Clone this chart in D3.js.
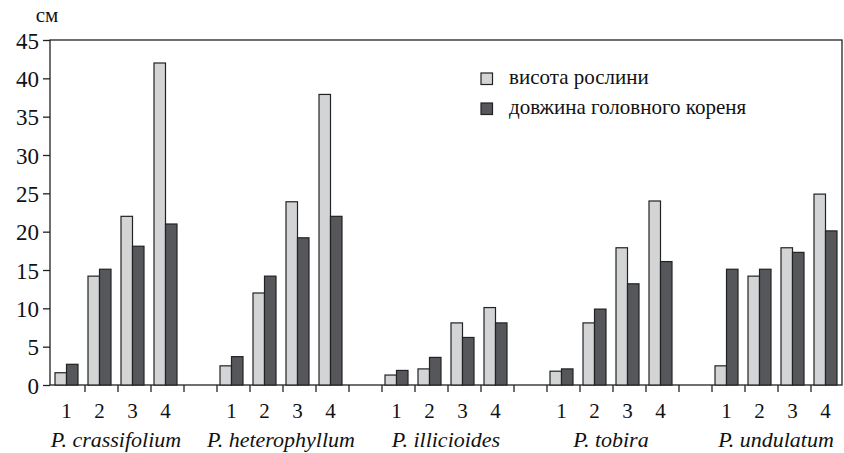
<!DOCTYPE HTML>
<html>
<head>
  <meta charset="utf-8">
  <title>d3</title>
  <script src="https://d3js.org/d3.v7.min.js"></script>
  <style>
    body { margin: 0; background: #fff; }
    svg text { font-family: "Liberation Serif", Tinos, "Times New Roman", serif; }
  </style>
</head>
<body>
  <script>
    const species = ['P. crassifolium', 'P. heterophyllum', 'P. illicioides', 'P. tobira', 'P. undulatum'];
    const stages = ['1', '2', '3', '4'];
    // висота рослини
    const heightVals = [
      [1.6, 14.2, 22, 42],
      [2.5, 12, 23.9, 37.9],
      [1.3, 2.1, 8.1, 10.1],
      [1.8, 8.1, 17.9, 24],
      [2.5, 14.2, 17.9, 24.9],
    ];
    // довжина головного кореня
    const rootVals = [
      [2.7, 15.1, 18.1, 21],
      [3.7, 14.2, 19.2, 22],
      [1.9, 3.6, 6.2, 8.1],
      [2.1, 9.9, 13.2, 16.1],
      [15.1, 15.1, 17.3, 20.1],
    ];
    const yTicks = [0, 5, 10, 15, 20, 25, 30, 35, 40, 45];
    const legendLabels = ['висота рослини', 'довжина головного кореня'];
    const colors = ['#d3d4d5', '#55575a'];

    const FONT = 'Liberation Serif';
    const W = 844, H = 453;
    const mLeft = 50, mRight = 842, mTop = 40, mBottom = 385;

    // slots: 4 stages + 1 gap per species, no gap after the last
    const slots = [];
    species.forEach((sp, i) => {
      stages.forEach((st, j) => slots.push(i + '-' + j));
      if (i < species.length - 1) slots.push('gap' + i);
    });

    const x = d3.scaleBand().domain(slots).range([mLeft, mRight]);
    const y = d3.scaleLinear().domain([0, 45]).range([mBottom, mTop]);
    const barW = 11.5;

    const svg = d3.select('body').append('svg')
      .attr('width', W)
      .attr('height', H)
      .attr('font-family', FONT);

    // frame
    svg.append('rect')
      .attr('x', mLeft).attr('y', mTop)
      .attr('width', mRight - mLeft).attr('height', mBottom - mTop)
      .attr('fill', 'none').attr('stroke', '#222').attr('stroke-width', 1.3);

    // y axis
    const yAxis = svg.append('g')
      .attr('transform', `translate(${mLeft},0)`)
      .call(d3.axisLeft(y).tickValues(yTicks).tickSize(7).tickPadding(4));
    yAxis.select('.domain').remove();
    yAxis.attr('font-family', FONT).attr('font-size', 23);
    yAxis.selectAll('line').attr('stroke', '#222').attr('stroke-width', 1.3);
    yAxis.selectAll('text')
      .attr('font-family', FONT)
      .attr('font-size', 23)
      .attr('dy', '0.35em')
      .attr('fill', '#111');

    svg.append('text')
      .attr('x', 47).attr('y', 22)
      .attr('text-anchor', 'middle')
      .attr('font-family', FONT)
      .attr('font-size', 21)
      .attr('fill', '#111')
      .text('см');

    // bars
    const bars = [];
    species.forEach((sp, i) => {
      stages.forEach((st, j) => {
        bars.push({ key: i + '-' + j, s: 0, v: heightVals[i][j] });
        bars.push({ key: i + '-' + j, s: 1, v: rootVals[i][j] });
      });
    });

    svg.selectAll('rect.bar')
      .data(bars)
      .enter()
      .append('rect')
      .attr('class', 'bar')
      .attr('x', d => x(d.key) + x.bandwidth() / 2 - barW + d.s * barW)
      .attr('y', d => y(d.v))
      .attr('width', barW)
      .attr('height', d => y(0) - y(d.v))
      .attr('fill', d => colors[d.s])
      .attr('stroke', '#222')
      .attr('stroke-width', 1.2);

    // x ticks at slot boundaries
    const bounds = slots.slice(1).map(s => x(s) + 2);
    svg.selectAll('line.xt')
      .data(bounds)
      .enter()
      .append('line')
      .attr('class', 'xt')
      .attr('x1', d => d).attr('x2', d => d)
      .attr('y1', mBottom).attr('y2', mBottom + 7)
      .attr('stroke', '#222').attr('stroke-width', 1.3);

    // stage labels
    const stageKeys = slots.filter(s => !s.startsWith('gap'));
    svg.selectAll('text.st')
      .data(stageKeys)
      .enter()
      .append('text')
      .attr('class', 'st')
      .attr('x', d => x(d) + x.bandwidth() / 2)
      .attr('y', 418)
      .attr('text-anchor', 'middle')
      .attr('font-family', FONT)
      .attr('font-size', 21)
      .attr('fill', '#111')
      .text(d => stages[+d.split('-')[1]]);

    // species labels
    svg.selectAll('text.sp')
      .data(species)
      .enter()
      .append('text')
      .attr('class', 'sp')
      .attr('x', (d, i) => (x(i + '-0') + x(i + '-3') + x.bandwidth()) / 2)
      .attr('y', 447)
      .attr('text-anchor', 'middle')
      .attr('font-family', FONT)
      .attr('font-size', 22)
      .attr('font-style', 'italic')
      .attr('fill', '#111')
      .text(d => d);

    // legend
    const lg = svg.selectAll('g.lg')
      .data(legendLabels)
      .enter()
      .append('g')
      .attr('class', 'lg')
      .attr('transform', (d, i) => `translate(481,${73 + i * 30})`);
    lg.append('rect')
      .attr('width', 11.5).attr('height', 11.5)
      .attr('fill', (d, i) => colors[i])
      .attr('stroke', '#222').attr('stroke-width', 1.2);
    lg.append('text')
      .attr('x', 28).attr('y', 11)
      .attr('font-family', FONT)
      .attr('font-size', 21)
      .attr('fill', '#111')
      .text(d => d);
  </script>
</body>
</html>
